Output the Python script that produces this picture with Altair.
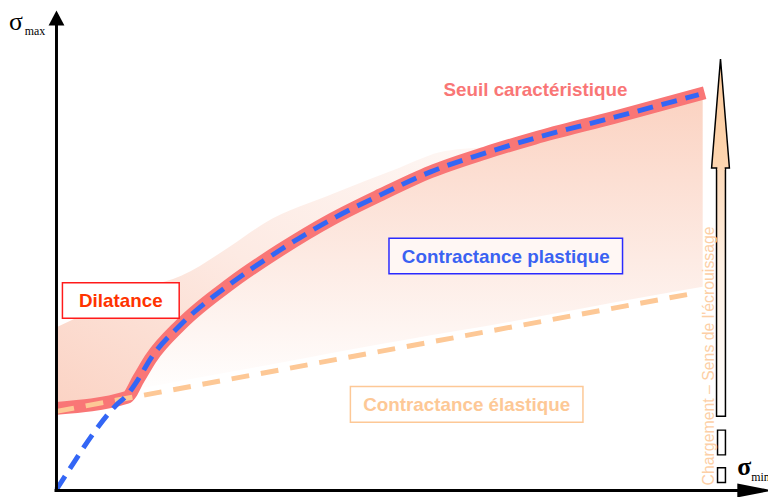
import altair as alt
import pandas as pd

# ---------------- data (pixel-space coordinates of the schematic) ----------------
# Seuil caractéristique (red band)
red_x = [57, 128, 140, 152, 183, 233, 283, 335, 385, 435, 490, 540, 620, 712]
red_y = [410, 399, 380, 360, 325, 284, 250, 219, 194, 171, 152, 137, 116, 91]

# blue dashed path (plastic yield), starts at origin then follows the threshold
blue_x = [57, 75, 93, 117, 128, 140, 152, 183, 233, 283, 335, 385, 435, 490, 540, 620, 706]
blue_y = [492, 464, 437, 407, 397, 380, 360, 325, 284, 250, 219, 194, 171, 152, 137, 116, 93]

# orange dashed (elastic limit)
elas_x = [57, 705]
elas_y = [413, 293]

# dilatance shaded zone (above the threshold)
dil_x = [57, 128, 150, 183, 233, 267, 337, 403, 450, 500]
dil_top = [328, 296, 287, 276, 246, 223, 193, 167, 150, 146]
dil_bot = [410, 399, 362, 325, 284, 260, 218, 186, 165, 149]

# plastic contractance shaded zone (below the threshold)
pla_x = [128, 140, 152, 183, 233, 283, 335, 385, 435, 490, 540, 620, 710]
pla_top = [399, 380, 360, 325, 284, 250, 219, 194, 171, 152, 137, 116, 92]
pla_bot = [399, 390, 388, 382, 373, 364, 354, 345, 336, 327, 318, 303, 287]

# loading arrow: head (triangle) and shaft
head_y = [57, 167]
head_l = [728, 719]
head_r = [728, 737]
shaft_x1, shaft_x2, shaft_y1, shaft_y2 = [724], [733], [166], [418]
box_x1 = [725, 725]
box_x2 = [733, 733]
box_y1 = [432, 470]
box_y2 = [457, 485]

# label boxes
lab_text = ["Dilatance", "Contractance plastique", "Contractance élastique"]
lab_x1 = [63, 393, 354]
lab_x2 = [181, 629, 589]
lab_y1 = [283, 238, 388]
lab_y2 = [319, 274, 424]
lab_color = ["#ff3300", "#3a62f2", "#fdc896"]
lab_border = ["#ff1a1a", "#2a2aff", "#fdc896"]
lab_fill = ["#ffffff", "#fff7f4", "#ffffff"]

# ---------------- scales ----------------
W, H = 768, 489
xs = alt.Scale(domain=[8, 776], nice=False, zero=False)
ys = alt.Scale(domain=[497, 8], nice=False, zero=False)


def X(f):
    return alt.X(f, type="quantitative", scale=xs, axis=None)


def Y(f):
    return alt.Y(f, type="quantitative", scale=ys, axis=None)


layers = []

# dilatance fill
dil = pd.DataFrame({"x": dil_x, "y": dil_top, "y2": dil_bot})
layers.append(
    alt.Chart(dil).mark_area(
        interpolate="monotone",
        color=alt.Gradient(
            gradient="linear",
            stops=[alt.GradientStop(color="#fbd3c4", offset=0),
                   alt.GradientStop(color="#fdeae3", offset=0.5),
                   alt.GradientStop(color="#fef7f4", offset=1)],
            x1=0, y1=1, x2=1, y2=0,
        )
    ).encode(x=X("x"), y=Y("y"), y2="y2")
)

# plastic fill
pla = pd.DataFrame({"x": pla_x, "y": pla_top, "y2": pla_bot})
layers.append(
    alt.Chart(pla).mark_area(
        interpolate="monotone",
        color=alt.Gradient(
            gradient="linear",
            stops=[alt.GradientStop(color="#fbd2c1", offset=0),
                   alt.GradientStop(color="#fdebe4", offset=0.55),
                   alt.GradientStop(color="#ffffff", offset=1)],
            x1=0, y1=0, x2=0, y2=1,
        )
    ).encode(x=X("x"), y=Y("y"), y2="y2")
)

# red threshold band
red = pd.DataFrame({"x": red_x, "y": red_y})
layers.append(
    alt.Chart(red).mark_line(color="#f97676", strokeWidth=13, strokeCap="butt",
                             strokeJoin="round", interpolate="monotone")
    .encode(x=X("x"), y=Y("y"))
)

# orange elastic dashed
ela = pd.DataFrame({"x": elas_x, "y": elas_y})
layers.append(
    alt.Chart(ela).mark_line(color="#fdc896", strokeWidth=5, strokeDash=[18, 12])
    .encode(x=X("x"), y=Y("y"))
)

# blue dashed
blu = pd.DataFrame({"x": blue_x, "y": blue_y})
layers.append(
    alt.Chart(blu).mark_line(color="#3366f5", strokeWidth=5, strokeDash=[16, 9],
                             interpolate="monotone")
    .encode(x=X("x"), y=Y("y"))
)

# axes
axes = pd.DataFrame({"x": [57, 55], "y": [493, 493], "x2": [57, 748], "y2": [18, 493]})
layers.append(
    alt.Chart(axes).mark_rule(color="black", strokeWidth=3)
    .encode(x=X("x"), y=Y("y"), x2="x2", y2="y2")
)
ytri = pd.DataFrame({"y": [8, 23], "x": [57, 49], "x2": [57, 65]})
layers.append(
    alt.Chart(ytri).mark_area(color="black", orient="horizontal")
    .encode(y=Y("y"), x=X("x"), x2="x2")
)
xtri = pd.DataFrame({"x": [745, 781], "y": [486, 493], "y2": [500, 493]})
layers.append(
    alt.Chart(xtri).mark_area(color="black", orient="vertical")
    .encode(x=X("x"), y=Y("y"), y2="y2")
)

# label boxes
labs = pd.DataFrame({
    "t": lab_text, "x": lab_x1, "x2": lab_x2, "y": lab_y1, "y2": lab_y2,
    "c": lab_color, "b": lab_border, "f": lab_fill,
    "cx": [(a + b) / 2 for a, b in zip(lab_x1, lab_x2)],
    "cy": [(a + b) / 2 for a, b in zip(lab_y1, lab_y2)],
})
layers.append(
    alt.Chart(labs).mark_rect(strokeWidth=1.5)
    .encode(x=X("x"), x2="x2", y=Y("y"), y2="y2",
            fill=alt.Fill("f:N", scale=None), stroke=alt.Stroke("b:N", scale=None))
)
layers.append(
    alt.Chart(labs).mark_text(font="Liberation Sans", fontWeight="bold", fontSize=19,
                              baseline="middle", align="center", dy=1)
    .encode(x=X("cx"), y=Y("cy"), text="t:N", color=alt.Color("c:N", scale=None))
)

# seuil caractéristique label
seuil = pd.DataFrame({"x": [541], "y": [94], "t": ["Seuil caractéristique"]})
layers.append(
    alt.Chart(seuil).mark_text(font="Liberation Sans", fontWeight="bold", fontSize=19,
                               color="#f97676", align="center", baseline="alphabetic")
    .encode(x=X("x"), y=Y("y"), text="t:N")
)

# loading arrow: shaft
shaft = pd.DataFrame({"x": shaft_x1, "x2": shaft_x2, "y": shaft_y1, "y2": shaft_y2})
layers.append(
    alt.Chart(shaft).mark_rect(
        stroke="black", strokeWidth=1.5,
        color=alt.Gradient(
            gradient="linear",
            stops=[alt.GradientStop(color="#fdd9b8", offset=0),
                   alt.GradientStop(color="#fff1e4", offset=0.4),
                   alt.GradientStop(color="#ffffff", offset=1)],
            x1=0, y1=0, x2=0, y2=1,
        ),
    ).encode(x=X("x"), x2="x2", y=Y("y"), y2="y2")
)
# loading arrow: head
head = pd.DataFrame({"y": head_y, "x": head_l, "x2": head_r})
layers.append(
    alt.Chart(head).mark_area(
        orient="horizontal", stroke="black", strokeWidth=1.5, strokeJoin="miter",
        color=alt.Gradient(
            gradient="linear",
            stops=[alt.GradientStop(color="#fdcb9c", offset=0),
                   alt.GradientStop(color="#fdd5b0", offset=1)],
            x1=0, y1=0, x2=0, y2=1,
        ),
    ).encode(y=Y("y"), x=X("x"), x2="x2")
)
# junction patch (hides the head's base line inside the shaft)
patch = pd.DataFrame({"x": [724.8], "x2": [732.2], "y": [165], "y2": [169]})
layers.append(
    alt.Chart(patch).mark_rect(color="#fdd6b2")
    .encode(x=X("x"), x2="x2", y=Y("y"), y2="y2")
)
boxes = pd.DataFrame({"x": box_x1, "x2": box_x2, "y": box_y1, "y2": box_y2})
layers.append(
    alt.Chart(boxes).mark_rect(fill="white", stroke="black", strokeWidth=1.5)
    .encode(x=X("x"), x2="x2", y=Y("y"), y2="y2")
)

# vertical caption
cap = pd.DataFrame({"x": [716], "y": [357], "t": ["Chargement – Sens de l'écrouissage"]})
layers.append(
    alt.Chart(cap).mark_text(font="Liberation Sans", fontSize=16, angle=270,
                             color="#fdcfa6", align="center", baseline="middle")
    .encode(x=X("x"), y=Y("y"), text="t:N")
)

# axis symbols
sym_max = pd.DataFrame({"x": [9], "y": [28], "t": ["σ"]})
layers.append(
    alt.Chart(sym_max).mark_text(font="Liberation Serif", fontSize=26, align="left",
                                 baseline="alphabetic", color="black")
    .encode(x=X("x"), y=Y("y"), text="t:N")
)
sym_min = pd.DataFrame({"x": [745], "y": [477], "t": ["σ"]})
layers.append(
    alt.Chart(sym_min).mark_text(font="Liberation Serif", fontSize=26, fontWeight="bold",
                                 align="left", baseline="alphabetic", color="black")
    .encode(x=X("x"), y=Y("y"), text="t:N")
)
sub = pd.DataFrame({"x": [25, 759], "y": [33, 483], "t": ["max", "min"]})
layers.append(
    alt.Chart(sub).mark_text(font="Liberation Serif", fontSize=12, align="left",
                             baseline="alphabetic", color="black")
    .encode(x=X("x"), y=Y("y"), text="t:N")
)

chart = alt.layer(*layers).properties(
    width=W, height=H, padding=0, autosize="none", background="white"
).configure_view(stroke=None)

chart.save("out.html", embed_options={"renderer": "svg", "actions": False})
